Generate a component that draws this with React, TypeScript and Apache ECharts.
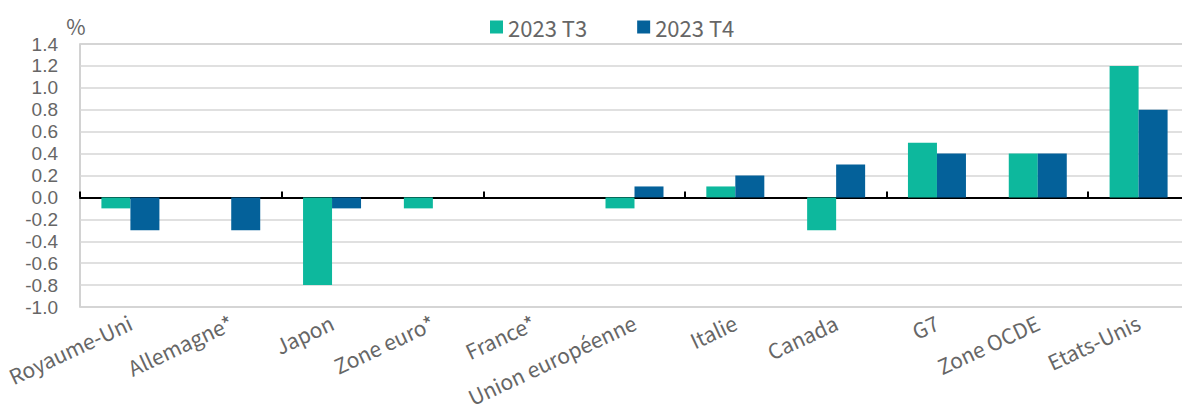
import React, { useEffect, useRef } from "react";
import * as echarts from "echarts";

const categories = [
  "Royaume-Uni",
  "Allemagne*",
  "Japon",
  "Zone euro*",
  "France*",
  "Union européenne",
  "Italie",
  "Canada",
  "G7",
  "Zone OCDE",
  "Etats-Unis",
];
const seriesNames = ["2023 T3", "2023 T4"];
const valuesT3 = [-0.1, 0, -0.8, -0.1, 0, -0.1, 0.1, -0.3, 0.5, 0.4, 1.2];
const valuesT4 = [-0.3, -0.3, -0.1, 0, 0, 0.1, 0.2, 0.3, 0.4, 0.4, 0.8];
const colors = ["#0DB89D", "#04619A"];

const FONT = "'Noto Sans CJK JP', 'Noto Sans', sans-serif";
const NUM_FONT = "'Liberation Sans', Arial, sans-serif";
const TEXT = "#666666";

export default function App() {
  const ref = useRef<HTMLDivElement>(null);
  useEffect(() => {
    document.body.style.margin = "0";
    if (!ref.current) return;
    const chart = echarts.init(ref.current, undefined, { renderer: "svg" });
    chart.setOption({
      animation: false,
      textStyle: { fontFamily: FONT },
      legend: {
        data: seriesNames,
        left: 485,
        top: 11,
        itemWidth: 13,
        itemHeight: 13,
        itemGap: 50,
        icon: "rect",
        textStyle: { fontSize: 22, color: TEXT, fontFamily: FONT },
      },
      grid: {
        show: true,
        left: 80,
        top: 44,
        right: 0,
        bottom: 107,
        borderColor: "#c4c4c4",
        borderWidth: 1.5,
        backgroundColor: "transparent",
      },
      xAxis: [
        {
          type: "category",
          data: categories,
          position: "bottom",
          axisLine: { show: false, onZero: false },
          axisTick: { show: false },
          axisLabel: {
            interval: 0,
            rotate: 25,
            margin: 14,
            fontSize: 21,
            color: TEXT,
            fontFamily: FONT,
          },
          splitLine: { show: false },
        },
        {
          type: "category",
          data: categories,
          position: "bottom",
          axisLine: { show: true, onZero: true, lineStyle: { color: "#000", width: 2 } },
          axisTick: { show: true, inside: true, length: 6, lineStyle: { color: "#000", width: 2 } },
          axisLabel: { show: false },
          splitLine: { show: false },
        },
      ],
      yAxis: {
        type: "value",
        min: -1,
        max: 1.4,
        interval: 0.2,
        name: "%",
        nameLocation: "end",
        nameGap: 8,
        nameTextStyle: { fontSize: 21, color: TEXT, fontFamily: FONT, padding: [0, 8, 0, 0] },
        axisLine: { show: false },
        axisTick: { show: false },
        axisLabel: {
          fontSize: 19,
          color: TEXT,
          fontFamily: NUM_FONT,
          margin: 22,
          formatter: (v: number) => v.toFixed(1),
        },
        splitLine: { show: true, lineStyle: { color: "#d6d6d6", width: 1.5 } },
      },
      series: [
        {
          name: seriesNames[0],
          type: "bar",
          xAxisIndex: 0,
          data: valuesT3,
          barWidth: 29,
          barGap: "0%",
          itemStyle: { color: colors[0] },
        },
        {
          name: seriesNames[1],
          type: "bar",
          xAxisIndex: 0,
          data: valuesT4,
          barWidth: 29,
          barGap: "0%",
          itemStyle: { color: colors[1] },
        },
      ],
    });
    return () => chart.dispose();
  }, []);
  return (
    <div style={{ width: 1182, height: 414, overflow: "hidden" }}>
      <div ref={ref} style={{ width: 1189, height: 414 }} />
    </div>
  );
}
